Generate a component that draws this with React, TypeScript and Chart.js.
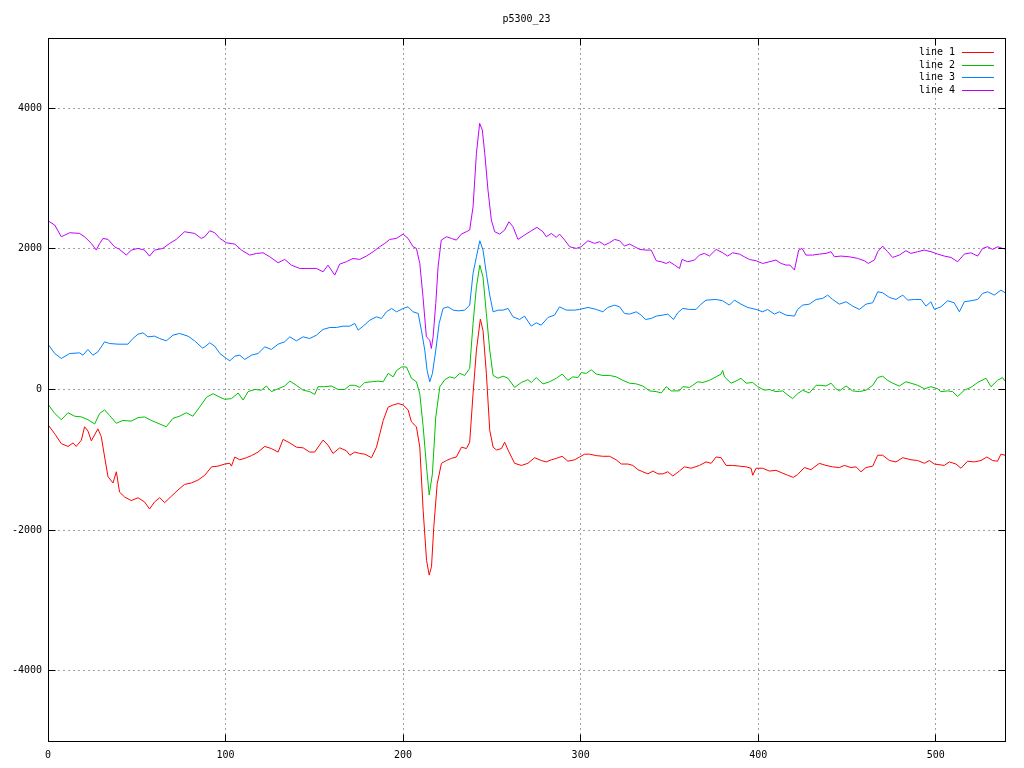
import React, { useEffect, useRef } from "react";
import { Chart, registerables } from "chart.js";

Chart.register(...registerables);

const TITLE = "p5300_23";
const SERIES_LABELS = ["line 1", "line 2", "line 3", "line 4"];
const SERIES_COLORS = ["#ff0000", "#00c000", "#0080ff", "#c000ff"];
const X_TICKS = [0, 100, 200, 300, 400, 500];
const Y_TICKS = [-4000, -2000, 0, 2000, 4000];
const X_RANGE = [0, 539];
const Y_RANGE = [-5000, 5000];

const LINE1_X = [0,3.8,7.5,11.3,14.1,15.9,18.8,20.6,22.5,24.4,28.1,30,31.9,33.8,36.6,38.5,40.3,43.2,46.9,50.7,54.4,57.2,60,62.9,65.7,69.4,73.2,76.9,80.7,84.4,88.3,92.1,95.8,99.6,102.4,103.3,105.2,108,111.8,114.6,118.3,122.1,125.8,129.6,132.4,136.2,139.9,143.7,147.4,150.2,154.9,157.7,160.5,164.3,168,170,172.8,175.6,178.4,182.2,185,186.9,188.8,191.6,194.4,197.2,200,202.8,204.7,207.5,209.4,211.3,213.2,214.7,216,217.3,219.2,221.6,224.4,227.2,230,232.9,235.7,237.5,239.4,241.3,243.5,245,246.9,248.8,250.7,252.6,255.4,257.2,259.1,262.8,266.6,270.3,274.1,277.8,280.6,283.5,286.3,289.6,292.8,296.6,299.4,302.2,305,308.8,312.5,316.3,320,322.9,326.6,329.4,332.2,335,337.9,340.7,343.5,346.3,349.1,351.9,355.6,358.4,362.2,366.9,370.6,373.5,376.3,379.1,381.9,385.6,389.4,393.2,396,396.9,398.8,402.5,406.3,410,413.8,416.6,419.8,422.2,426,429.7,434.4,438.2,441.9,445.7,448.5,452.3,455.1,457.9,460.7,464.5,467.3,470.1,473.9,477.6,481.4,486.1,489.8,493.6,496.4,499.2,504.8,507.6,511.4,514.2,517.9,521.7,525.5,528.8,532,534.8,536.7,539];
const LINE1_Y = [-500,-630,-770,-810,-760,-810,-720,-530,-590,-730,-560,-670,-960,-1240,-1330,-1170,-1460,-1530,-1580,-1540,-1600,-1700,-1600,-1540,-1610,-1520,-1430,-1350,-1330,-1290,-1220,-1100,-1090,-1060,-1050,-1090,-960,-1000,-970,-940,-890,-810,-840,-890,-710,-760,-820,-830,-890,-890,-720,-790,-910,-830,-870,-935,-890,-910,-920,-970,-820,-630,-440,-250,-220,-200,-220,-290,-460,-530,-820,-1720,-2430,-2640,-2520,-1950,-1340,-1050,-1010,-980,-960,-820,-840,-750,-60,560,1000,840,230,-580,-820,-860,-840,-750,-860,-1050,-1080,-1050,-970,-1010,-1030,-1000,-980,-950,-1020,-1000,-960,-920,-920,-940,-950,-950,-1000,-1060,-1060,-1080,-1140,-1170,-1200,-1160,-1200,-1200,-1170,-1230,-1160,-1100,-1120,-1080,-1030,-1050,-960,-970,-1080,-1080,-1090,-1100,-1120,-1220,-1120,-1120,-1160,-1150,-1190,-1220,-1250,-1210,-1110,-1140,-1050,-1080,-1100,-1110,-1080,-1110,-1100,-1170,-1110,-1090,-935,-935,-1010,-1030,-970,-1000,-1010,-1050,-1010,-1060,-1080,-1030,-1060,-1120,-1020,-1030,-1010,-960,-1010,-1020,-920,-935];

const LINE2_X = [0,3.8,7.5,11.3,15,18.8,22.5,26.3,29.1,31.9,34.7,38.5,42.2,46.9,50.7,54.4,58.2,61.9,66.6,70.4,74.1,77.9,81.6,85.4,89.3,93,96.8,99.6,103.3,107.1,109.9,112.7,116.5,120.2,123,125.8,129.6,133.3,136.2,139.9,143.7,147.4,150.2,152.1,155.9,159.6,163.4,167.1,170,172.8,175.6,178.4,182.2,185.9,188.8,191.6,194.4,196.3,199.1,201.9,204.7,207.5,209.4,211.3,213.2,214.7,216.5,218.4,220.7,223.5,226.3,229.1,231.9,234.7,237.5,239.4,241.3,243.2,245,246.9,248.8,250.7,253.5,256.3,259.1,262.8,266.6,270.3,272.2,275,278.8,282.5,286.3,289.6,292.8,295.6,298.5,300.3,303.2,306,308.8,312.5,316.3,320,323.8,327.5,331.3,335,338.8,342.6,345.4,348.2,351,355.6,357.5,361.3,363.1,365.9,368.8,372.5,376.3,379.1,380,381,384.7,387.5,390.3,393.2,396.9,399.7,403.5,406.3,410,413.8,415.7,419.4,422.2,425,428.8,432.6,435.4,438.2,441,443.8,445.7,449.5,453.2,457,460.7,464.5,467.3,470.1,472.9,475.7,479.5,483.2,486,489.8,493.6,497.3,501.1,502.9,506.7,509.5,512.3,516.1,519.8,523.6,528.3,531.1,534.8,537.6,539];
const LINE2_Y = [-210,-340,-430,-330,-380,-390,-430,-490,-340,-290,-370,-480,-440,-450,-400,-390,-440,-480,-530,-410,-380,-330,-380,-250,-110,-60,-110,-140,-130,-50,-150,-30,0,-10,50,-30,10,50,120,60,-10,-30,-70,40,40,50,0,0,60,60,30,100,110,120,110,230,180,270,320,320,160,110,-60,-530,-1100,-1500,-1200,-390,40,140,180,160,230,200,300,940,1460,1770,1600,1080,560,200,160,190,160,30,100,140,100,170,80,110,160,220,130,180,170,240,230,280,220,200,200,180,130,90,80,50,-20,-30,-50,40,-20,-20,40,30,60,110,100,130,180,220,270,180,90,120,160,90,100,40,-10,0,-30,-20,-60,-130,-60,-10,-50,60,60,50,90,10,-20,50,-20,-30,-10,60,170,190,130,90,50,110,90,60,10,40,10,-30,-20,-30,-100,-10,30,100,160,40,130,170,120];

const LINE3_X = [0,3.8,7.5,12.2,17.8,19.7,22.5,25.3,28.1,31.9,34.7,39.4,45,47.8,50.7,53.5,56.3,60,62.9,66.6,70.4,74.1,78.8,82.6,87,88.3,91.1,93.9,96.8,100.5,102.4,105.2,108,110.8,114.6,118.3,122.1,125.8,129.6,133.3,136.2,139.9,143.7,147.4,151.2,154.9,158.7,162.4,166.2,169.9,172.8,174.7,177.5,181.3,185,187.8,190.6,193.5,196.3,200,202.8,205.6,208.5,210.3,212.2,213.5,215,216.5,218.4,220.3,222.5,225.3,228.2,231,234.7,237.5,239.4,241.3,243.2,245,246.9,248.8,250.7,253.5,256.3,259.1,261.9,265.6,268.4,272.2,275,277.8,281.6,285.3,288.1,291.9,296.6,299.4,304.1,308.8,312.5,315.3,319.1,321.9,324.7,327.5,331.3,334.1,336.5,339.7,342.6,346.3,349.1,352.3,354.7,357.5,361.3,365,367.8,370.6,376.3,380,383.8,386.6,390.3,394.1,398.8,402.5,405.3,409.1,411.9,415.7,420.4,422.2,425,428.8,432.6,436.3,439.1,441.9,445.7,449.5,453.2,457,460.7,464.5,467.3,470.1,473.9,477.6,481.4,484.2,487.9,491.7,494.5,497.3,499.2,502.9,506.7,510.4,513.3,516.1,519.8,523.6,526.4,529.2,533,536.7,539];
const LINE3_Y = [645,512,441,512,521,488,569,488,536,678,654,645,645,725,787,806,749,759,725,692,773,797,759,692,590,607,664,616,512,441,408,474,488,427,488,512,607,569,645,678,749,692,749,725,773,854,882,882,901,901,939,844,901,987,1034,1010,1105,1153,1105,1153,1176,1105,1081,844,560,275,109,227,560,939,1153,1176,1129,1119,1129,1200,1651,1888,2116,1983,1651,1342,1105,1129,1129,1153,1034,996,1044,901,949,916,1025,1058,1176,1129,1129,1139,1167,1139,1105,1167,1200,1176,1082,1072,1105,1058,996,1010,1044,1058,1072,996,1091,1153,1139,1139,1214,1271,1281,1262,1200,1271,1214,1167,1139,1105,1139,1072,1105,1058,1044,1139,1200,1214,1281,1295,1343,1281,1214,1248,1186,1139,1214,1234,1390,1376,1309,1281,1343,1271,1281,1281,1186,1248,1139,1176,1262,1234,1105,1248,1262,1281,1366,1390,1343,1414,1376];

const LINE4_X = [0,3.8,7.5,12.2,17.8,20.6,24.4,27.2,29.1,31,33.8,37.5,40.3,44.1,46.9,50.7,54.4,57.2,60,64.7,68.5,72.2,76.9,82.6,86.3,88.3,91.1,93.9,96.8,100.5,105.2,109,113.6,117.4,121.1,124.9,129.6,133.3,137.1,141.8,146.5,151.2,154.9,157.7,161.5,164.3,168,171.8,175.6,179.3,183.1,186.8,189.7,192.5,196.2,200,202.8,205.6,207.5,209.4,211.2,213.1,215,215.9,216.9,218.4,219.7,221.5,224.4,227.2,230,232.8,235.6,237.5,239.4,241.3,243.1,244.6,246,247.8,249.7,251.6,254.4,257.2,259.6,261.9,264.7,268.4,272.2,275.4,278.8,280.6,283.5,286.3,288.1,291,293.8,297.5,300.3,304.1,307.8,310.7,313.5,316.3,319.1,321.9,324.7,327.5,330.4,333.2,336.9,339.7,342.6,345.4,348.2,350.1,352.9,355.7,357.1,360.3,364.1,366.9,369.7,372.5,376.3,380,382.8,385.6,389.4,392.2,395,398.8,402.5,406.3,410,412.9,415.7,417.9,420.4,422.8,424.7,426.9,430.7,434.4,438.2,441,442.9,446.6,451.3,456,459.8,462,465.4,467.3,470.1,472.9,475.7,479.5,483.2,486,489.8,493.6,497.3,501.1,504.8,508.6,512.3,516.1,519.8,523.6,526.4,529.2,532,534.9,537.6,539];
const LINE4_Y = [2400,2339,2173,2230,2220,2173,2078,1983,2078,2149,2135,2030,1992,1912,1983,2007,1983,1897,1983,2007,2078,2135,2244,2220,2149,2173,2258,2230,2149,2087,2068,1983,1912,1935,1945,1888,1803,1850,1769,1722,1722,1722,1674,1769,1627,1784,1817,1864,1850,1898,1959,2031,2078,2135,2149,2211,2149,2031,2007,1793,1319,749,702,583,749,1224,1746,2125,2173,2149,2125,2211,2244,2268,2600,3359,3786,3691,3359,2837,2410,2244,2211,2268,2386,2315,2135,2197,2258,2306,2244,2173,2220,2164,2211,2126,2031,2007,2031,2116,2078,2102,2054,2088,2135,2116,2040,2069,2031,1993,1983,1983,1831,1817,1793,1817,1770,1722,1850,1817,1841,1912,1936,1898,1993,1945,1898,1945,1926,1888,1850,1831,1793,1817,1841,1793,1770,1770,1699,1983,2007,1912,1912,1926,1936,1960,1888,1898,1888,1865,1831,1793,1841,1960,2040,1960,1879,1912,1974,1936,1960,1983,1960,1926,1898,1879,1817,1926,1945,1898,2007,2031,1993,2031,2007,2000];

const FONT_FAMILY = "'DejaVu Sans Mono', 'Liberation Mono', monospace";
const TICK_LEN = 7;

const gnuplotDecor = {
  id: "gnuplotDecor",
  beforeDatasetsDraw(chart: any) {
    const { ctx, chartArea: a, scales } = chart;
    const xs = scales.x;
    const ys = scales.y;
    ctx.save();
    ctx.strokeStyle = "#a0a0a0";
    ctx.lineWidth = 1;
    ctx.setLineDash([2, 3]);
    for (const v of X_TICKS) {
      const px = Math.floor(xs.getPixelForValue(v)) + 0.5;
      if (px <= a.left + 1 || px >= a.right - 1) continue;
      ctx.beginPath();
      ctx.moveTo(px, a.top);
      ctx.lineTo(px, a.bottom);
      ctx.stroke();
    }
    for (const v of Y_TICKS) {
      const py = Math.floor(ys.getPixelForValue(v)) + 0.5;
      if (py <= a.top + 1 || py >= a.bottom - 1) continue;
      ctx.beginPath();
      ctx.moveTo(a.left, py);
      ctx.lineTo(a.right, py);
      ctx.stroke();
    }
    ctx.restore();
  },
  afterDatasetsDraw(chart: any) {
    const { ctx, chartArea: a, scales } = chart;
    const xs = scales.x;
    const ys = scales.y;
    const L = Math.floor(a.left) + 0.5;
    const R = Math.floor(a.right) + 0.5;
    const T = Math.floor(a.top) + 0.5;
    const B = Math.floor(a.bottom) + 0.5;
    ctx.save();
    ctx.strokeStyle = "#000";
    ctx.lineWidth = 1;
    ctx.setLineDash([]);
    ctx.strokeRect(L, T, R - L, B - T);
    ctx.beginPath();
    for (const v of X_TICKS) {
      const px = Math.floor(xs.getPixelForValue(v)) + 0.5;
      ctx.moveTo(px, B);
      ctx.lineTo(px, B - TICK_LEN);
      ctx.moveTo(px, T);
      ctx.lineTo(px, T + TICK_LEN);
    }
    for (const v of Y_TICKS) {
      const py = Math.floor(ys.getPixelForValue(v)) + 0.5;
      ctx.moveTo(L, py);
      ctx.lineTo(L + TICK_LEN, py);
      ctx.moveTo(R, py);
      ctx.lineTo(R - TICK_LEN, py);
    }
    ctx.stroke();

    // key (legend), top-right inside the plot
    ctx.font = `10px ${FONT_FAMILY}`;
    ctx.textAlign = "right";
    ctx.textBaseline = "middle";
    const textRight = a.right - 50;
    const lineX0 = a.right - 43;
    const lineX1 = a.right - 11;
    chart.data.datasets.forEach((ds: any, i: number) => {
      const y = Math.round(a.top + 14 + i * 12.7);
      ctx.fillStyle = "#000";
      ctx.fillText(ds.label, textRight, y);
      ctx.strokeStyle = ds.borderColor;
      ctx.beginPath();
      ctx.moveTo(lineX0, y + 0.5);
      ctx.lineTo(lineX1, y + 0.5);
      ctx.stroke();
    });
    ctx.restore();
  },
};

export default function App() {
  const ref = useRef<HTMLCanvasElement>(null);
  useEffect(() => {
    const canvas = ref.current;
    if (!canvas) return;
    const xsAll = [LINE1_X, LINE2_X, LINE3_X, LINE4_X];
    const ysAll = [LINE1_Y, LINE2_Y, LINE3_Y, LINE4_Y];
    const tickFont = { family: FONT_FAMILY, size: 10, weight: "normal" as const, lineHeight: 1.2 };
    const chart = new Chart(canvas, {
      type: "line",
      data: {
        datasets: SERIES_LABELS.map((label, i) => ({
          label,
          data: xsAll[i].map((x, j) => ({ x, y: ysAll[i][j] })),
          borderColor: SERIES_COLORS[i],
          backgroundColor: SERIES_COLORS[i],
          borderWidth: 1,
          pointRadius: 0,
          pointHoverRadius: 0,
          tension: 0,
          fill: false,
          order: 3 - i,
        })),
      },
      options: {
        responsive: false,
        animation: false,
        devicePixelRatio: 1,
        events: [],
        layout: { padding: { left: 0, right: 19, top: 0, bottom: 0 } },
        plugins: {
          legend: { display: false },
          tooltip: { enabled: false },
          title: {
            display: true,
            text: TITLE,
            color: "#000",
            fullSize: false,
            font: tickFont,
            padding: { top: 13, bottom: 13 },
          },
        },
        scales: {
          x: {
            type: "linear",
            min: X_RANGE[0],
            max: X_RANGE[1],
            afterBuildTicks: (s: any) => {
              s.ticks = X_TICKS.map((v) => ({ value: v }));
            },
            afterFit: (s: any) => {
              s.height = 27;
            },
            grid: { display: false, drawTicks: false },
            border: { display: false },
            ticks: {
              color: "#000",
              font: tickFont,
              padding: 8,
              maxRotation: 0,
              autoSkip: false,
              callback: (v: any) => String(v),
            },
          },
          y: {
            type: "linear",
            min: Y_RANGE[0],
            max: Y_RANGE[1],
            afterBuildTicks: (s: any) => {
              s.ticks = Y_TICKS.map((v) => ({ value: v }));
            },
            afterFit: (s: any) => {
              s.width = 48;
            },
            grid: { display: false, drawTicks: false },
            border: { display: false },
            ticks: {
              color: "#000",
              font: tickFont,
              padding: 6,
              autoSkip: false,
              callback: (v: any) => String(v),
            },
          },
        },
      },
      plugins: [gnuplotDecor],
    });
    return () => chart.destroy();
  }, []);
  return (
    <canvas
      ref={ref}
      width={1024}
      height={768}
      style={{ position: "absolute", left: 0, top: 0, display: "block" }}
    />
  );
}
